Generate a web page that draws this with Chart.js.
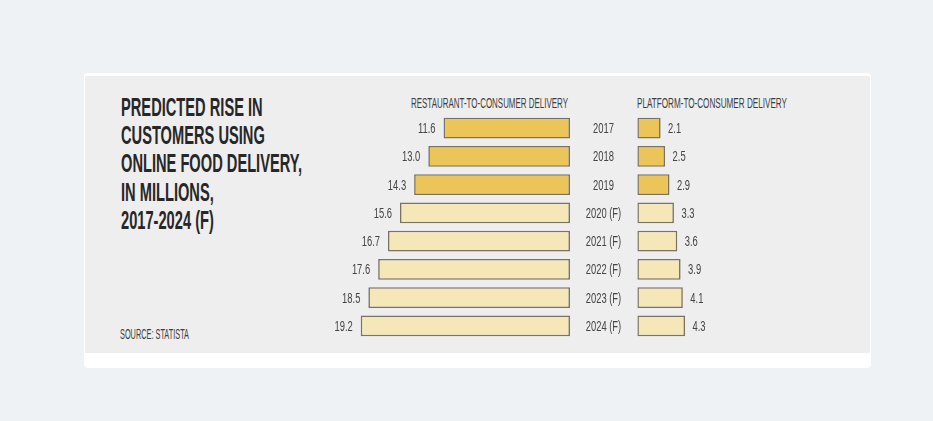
<!DOCTYPE html>
<html>
<head>
<meta charset="utf-8">
<script src="https://cdn.jsdelivr.net/npm/chart.js@4.4.1/dist/chart.umd.min.js"></script>
<style>
    html, body { margin: 0; padding: 0; }
    body { width: 933px; height: 421px; background: #eff2f5; position: relative; overflow: hidden;
           font-family: 'Liberation Sans', Arial, sans-serif; color: #2e2e2e; }
    .card { position: absolute; left: 84px; top: 73px; width: 787px; height: 295px; background: #fff; border-radius: 4px; }
    .panel { position: absolute; left: 85px; top: 76px; width: 785px; height: 277px; background: #eeeeee; }
    .txt { position: absolute; white-space: nowrap; transform-origin: left top; display: inline-block; }
    .title { font-size: 25px; line-height: 28.3px; font-weight: bold; color: #272727; }
    .head { font-size: 14px; line-height: 14px; color: #3d3d3d; }
    .source { font-size: 14px; line-height: 14px; color: #3d3d3d; }
    canvas { position: absolute; }
</style>
</head>
<body>
<div class="card"></div>
<div class="panel"></div>

<div class="txt title" data-x="120.7" data-w="181" style="top:92.8px">PREDICTED RISE IN<br>CUSTOMERS USING<br>ONLINE FOOD DELIVERY,<br>IN MILLIONS,<br>2017-2024 (F)</div>
<div class="txt head" data-x="411" data-w="157" style="top:96.4px">RESTAURANT-TO-CONSUMER DELIVERY</div>
<div class="txt head" data-x="637" data-w="150" style="top:96.2px">PLATFORM-TO-CONSUMER DELIVERY</div>
<div class="txt source" data-x="120" data-w="69" style="top:327.3px">SOURCE: STATISTA</div>

<canvas id="restChart" width="290" height="246" style="left:290px; top:104px"></canvas>
<canvas id="platChart" width="200" height="246" style="left:575px; top:104px"></canvas>

<script>
// data (millions of customers)
const years = ['2017', '2018', '2019', '2020 (F)', '2021 (F)', '2022 (F)', '2023 (F)', '2024 (F)'];
const restaurantDelivery = [11.6, 13.0, 14.3, 15.6, 16.7, 17.6, 18.5, 19.2];
const platformDelivery = [2.1, 2.5, 2.9, 3.3, 3.6, 3.9, 4.1, 4.3];

const GOLD = '#ebc45a';
const GOLD_LIGHT = '#f6e7b9';
const EDGE = '#7a7362';
const FONT = "'Liberation Sans', Arial, sans-serif";
const SQUEEZE = 0.67; // the original uses a condensed face

// squeeze the html labels to the condensed width of the original
document.querySelectorAll('.txt').forEach(el => {
    const w = el.getBoundingClientRect().width;
    el.style.left = el.dataset.x + 'px';
    el.style.transform = `scaleX(${el.dataset.w / w})`;
});

function squeezedText(ctx, text, x, y, align) {
    ctx.save();
    ctx.translate(x, y);
    ctx.scale(SQUEEZE, 1);
    ctx.textAlign = align;
    ctx.fillText(text, 0, 0);
    ctx.restore();
}

// number next to each bar, and the year column (placed on the category positions)
const barLabels = {
    id: 'barLabels',
    afterDatasetsDraw(chart, args, opts) {
        const ctx = chart.ctx;
        const meta = chart.getDatasetMeta(0);
        const values = chart.data.datasets[0].data;
        ctx.save();
        ctx.font = `14px ${FONT}`;
        ctx.fillStyle = '#444';
        ctx.textBaseline = 'alphabetic';
        meta.data.forEach((bar, i) => {
            const y = bar.y + 5;
            if (opts.side === 'left') {
                squeezedText(ctx, values[i].toFixed(1), bar.x - opts.gap, y, 'right');
            } else {
                squeezedText(ctx, values[i].toFixed(1), bar.x + opts.gap, y, 'left');
            }
            if (opts.yearX !== undefined) {
                squeezedText(ctx, chart.data.labels[i], opts.yearX, y, 'center');
            }
        });
        ctx.restore();
    }
};

const barColors = years.map(y => y.includes('(F)') ? GOLD_LIGHT : GOLD);

function dataset(values) {
    return {
        data: values,
        backgroundColor: barColors,
        borderColor: EDGE,
        borderWidth: 1.6,
        borderSkipped: false,
        barPercentage: 0.74,
        categoryPercentage: 1
    };
}

new Chart(document.getElementById('restChart'), {
    type: 'bar',
    data: { labels: years, datasets: [dataset(restaurantDelivery)] },
    options: {
        indexAxis: 'y',
        responsive: false,
        animation: false,
        layout: { padding: { left: 7.5, right: 10, top: 10, bottom: 10 } },
        scales: {
            x: { reverse: true, min: 0, max: 25, display: false },
            y: { display: false }
        },
        plugins: {
            legend: { display: false },
            tooltip: { enabled: false },
            barLabels: { side: 'left', gap: 8 }
        }
    },
    plugins: [barLabels]
});

new Chart(document.getElementById('platChart'), {
    type: 'bar',
    data: { labels: years, datasets: [dataset(platformDelivery)] },
    options: {
        indexAxis: 'y',
        responsive: false,
        animation: false,
        layout: { padding: { left: 62.3, right: 0, top: 10, bottom: 10 } },
        scales: {
            x: { min: 0, max: 12.4, display: false },
            y: { display: false }
        },
        plugins: {
            legend: { display: false },
            tooltip: { enabled: false },
            barLabels: { side: 'right', gap: 7.5, yearX: 28.5 }
        }
    },
    plugins: [barLabels]
});
</script>
</body>
</html>
